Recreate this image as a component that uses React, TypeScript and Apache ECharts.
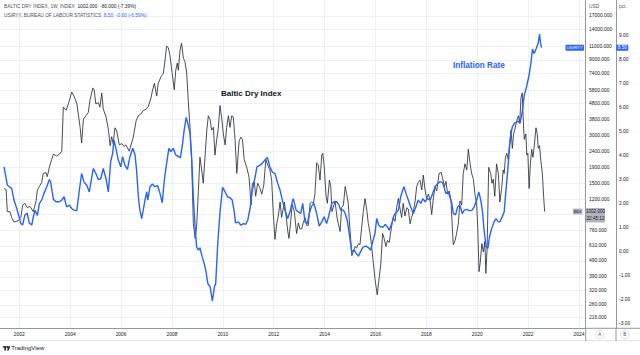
import React, { useEffect, useRef } from 'react';
import * as echarts from 'echarts';

// Baltic Dry Index (weekly, sampled), decimal years
const bdiDates = [
  2001.40, 2001.48, 2001.53, 2001.63, 2001.70, 2001.79, 2001.96, 2002.06, 2002.13, 2002.22,
  2002.31, 2002.42, 2002.55, 2002.66, 2002.71, 2002.79, 2002.88, 2002.94, 2003.05, 2003.10,
  2003.18, 2003.27, 2003.34, 2003.47, 2003.57, 2003.67, 2003.73, 2003.84, 2003.93, 2004.06,
  2004.15, 2004.26, 2004.39, 2004.45, 2004.52, 2004.62, 2004.71, 2004.78, 2004.89, 2004.94,
  2005.01, 2005.11, 2005.17, 2005.24, 2005.30, 2005.41, 2005.50, 2005.57, 2005.63, 2005.69,
  2005.76, 2005.83, 2005.93, 2006.03, 2006.12, 2006.19, 2006.32, 2006.48, 2006.59, 2006.68,
  2006.77, 2006.87, 2006.98, 2007.07, 2007.18, 2007.23, 2007.31, 2007.40, 2007.46, 2007.57,
  2007.66, 2007.73, 2007.79, 2007.86, 2007.92, 2008.01, 2008.09, 2008.15, 2008.21, 2008.25,
  2008.32, 2008.38, 2008.45, 2008.51, 2008.58, 2008.64, 2008.71, 2008.78, 2008.84, 2008.91,
  2008.97, 2009.04, 2009.10, 2009.17, 2009.23, 2009.30, 2009.37, 2009.43, 2009.50, 2009.56,
  2009.63, 2009.69, 2009.76, 2009.82, 2009.89, 2009.96, 2010.02, 2010.09, 2010.15, 2010.22,
  2010.28, 2010.35, 2010.41, 2010.48, 2010.55, 2010.64, 2010.71, 2010.77, 2010.84, 2010.94,
  2011.03, 2011.11, 2011.16, 2011.24, 2011.29, 2011.37, 2011.45, 2011.53, 2011.61, 2011.69,
  2011.77, 2011.85, 2011.92, 2011.98, 2012.05, 2012.12, 2012.18, 2012.25, 2012.31, 2012.42,
  2012.47, 2012.55, 2012.60, 2012.67, 2012.73, 2012.81, 2012.90, 2012.97, 2013.03, 2013.10,
  2013.16, 2013.23, 2013.30, 2013.36, 2013.43, 2013.49, 2013.56, 2013.62, 2013.69, 2013.75,
  2013.82, 2013.89, 2013.93, 2013.98, 2014.06, 2014.11, 2014.19, 2014.24, 2014.29, 2014.34,
  2014.41, 2014.48, 2014.54, 2014.61, 2014.67, 2014.74, 2014.81, 2014.87, 2014.93, 2015.00,
  2015.07, 2015.13, 2015.20, 2015.26, 2015.33, 2015.39, 2015.46, 2015.52, 2015.59, 2015.66,
  2015.72, 2015.79, 2015.85, 2015.92, 2015.98, 2016.07, 2016.15, 2016.21, 2016.28, 2016.34,
  2016.41, 2016.47, 2016.54, 2016.64, 2016.70, 2016.77, 2016.83, 2016.90, 2016.96, 2017.03,
  2017.09, 2017.16, 2017.23, 2017.29, 2017.36, 2017.42, 2017.49, 2017.56, 2017.62, 2017.68,
  2017.75, 2017.82, 2017.88, 2017.95, 2018.01, 2018.08, 2018.15, 2018.21, 2018.28, 2018.34,
  2018.41, 2018.50, 2018.58, 2018.63, 2018.71, 2018.77, 2018.84, 2018.90, 2018.97, 2019.02,
  2019.06, 2019.13, 2019.19, 2019.26, 2019.32, 2019.39, 2019.45, 2019.52, 2019.59, 2019.65,
  2019.72, 2019.78, 2019.85, 2019.91, 2019.98, 2020.02, 2020.07, 2020.12, 2020.18, 2020.24,
  2020.30, 2020.34, 2020.39, 2020.45, 2020.53, 2020.58, 2020.63, 2020.69, 2020.76, 2020.83,
  2020.89, 2020.96, 2021.02, 2021.06, 2021.11, 2021.16, 2021.22, 2021.29, 2021.33, 2021.38,
  2021.43, 2021.48, 2021.55, 2021.62, 2021.67, 2021.72, 2021.77, 2021.81, 2021.85, 2021.91,
  2021.95, 2021.99, 2022.04, 2022.09, 2022.14, 2022.19, 2022.24, 2022.31, 2022.36, 2022.40,
  2022.45, 2022.50, 2022.56, 2022.61, 2022.65,
];
const bdiValues = [
  1400, 1380, 1000, 1000, 920, 860, 880, 920, 1100, 1130,
  1060, 1080, 1000, 1170, 1370, 1440, 1530, 1740, 1760, 1660,
  1900, 2130, 2300, 2240, 2300, 2400, 4540, 4340, 4760, 5650,
  5330, 4800, 3390, 2700, 3820, 4010, 4200, 5050, 6000, 5850,
  4760, 4850, 4540, 5580, 4430, 3940, 3300, 2600, 2960, 2680,
  3370, 3220, 2630, 2680, 2570, 2630, 2400, 2940, 3720, 4010,
  4100, 4320, 4400, 4600, 5200, 5740, 6420, 5330, 6400, 7060,
  7380, 9000, 11000, 10700, 9650, 7380, 5850, 7750, 8600, 7750,
  10400, 11450, 9200, 8800, 7450, 5030, 3390, 2000, 840, 680,
  800, 1360, 2200, 1830, 1510, 2200, 3260, 4010, 3800, 3260,
  3390, 2270, 2850, 3330, 4650, 3820, 3080, 2630, 3390, 4010,
  3390, 4010, 3950, 2850, 1740, 2780, 2940, 2850, 2130, 1900,
  1650, 1100, 1510, 1540, 1250, 1510, 1420, 1290, 1470, 2130,
  1950, 1830, 1580, 1000, 670, 840, 940, 1150, 920, 1150,
  1000, 760, 680, 880, 1110, 1000, 730, 850, 780, 780,
  850, 920, 820, 820, 1130, 1150, 1130, 1290, 2030, 1970,
  1580, 2270, 2330, 1970, 1250, 1130, 1580, 1450, 1000, 1060,
  1170, 940, 840, 750, 1060, 1100, 1440, 1290, 1130, 760,
  530, 560, 605, 590, 630, 620, 800, 1000, 1210, 1020,
  840, 730, 605, 470, 380, 300, 390, 470, 730, 680,
  605, 660, 640, 820, 920, 870, 1060, 1210, 1060, 920,
  1130, 940, 1060, 1040, 840, 920, 1000, 1170, 1440, 1530,
  1580, 1370, 1700, 1370, 1210, 1290, 1170, 960, 1230, 1440,
  1350, 1740, 1770, 1650, 1440, 1550, 1290, 1350, 1170, 800,
  620, 660, 730, 850, 1170, 1100, 1740, 2000, 1830, 2470,
  2000, 1740, 1600, 1290, 1100, 800, 420, 480, 630, 560,
  650, 410, 600, 1900, 1740, 1510, 1600, 1250, 2000, 1740,
  1150, 1400, 1830, 1740, 2200, 2330, 2130, 2850, 3260, 2500,
  3080, 3300, 3720, 4010, 3600, 5200, 5580, 3720, 2850, 3080,
  2270, 2330, 1400, 2000, 2470, 2200, 2570, 3370, 3080, 2500,
  2600, 2090, 1740, 1250, 1002,
];

// US inflation rate YoY (%), monthly-ish samples
const cpiDates = [
  2001.40, 2001.53, 2001.70, 2001.79, 2001.90, 2001.99, 2002.06, 2002.13, 2002.22, 2002.31,
  2002.39, 2002.49, 2002.55, 2002.62, 2002.71, 2002.79, 2002.88, 2002.97, 2003.08, 2003.18,
  2003.23, 2003.34, 2003.44, 2003.57, 2003.67, 2003.76, 2003.86, 2003.97, 2004.06, 2004.15,
  2004.26, 2004.36, 2004.45, 2004.54, 2004.65, 2004.75, 2004.85, 2004.91, 2005.01, 2005.11,
  2005.20, 2005.30, 2005.41, 2005.50, 2005.59, 2005.67, 2005.72, 2005.80, 2005.89, 2005.99,
  2006.06, 2006.15, 2006.25, 2006.35, 2006.46, 2006.55, 2006.61, 2006.68, 2006.74, 2006.81,
  2006.87, 2006.94, 2007.01, 2007.05, 2007.14, 2007.23, 2007.33, 2007.44, 2007.53, 2007.62,
  2007.70, 2007.79, 2007.88, 2007.96, 2008.05, 2008.15, 2008.25, 2008.33, 2008.41, 2008.48,
  2008.56, 2008.64, 2008.71, 2008.78, 2008.84, 2008.91, 2008.97, 2009.04, 2009.10, 2009.19,
  2009.27, 2009.33, 2009.41, 2009.50, 2009.59, 2009.67, 2009.72, 2009.80, 2009.89, 2009.99,
  2010.09, 2010.19, 2010.28, 2010.37, 2010.45, 2010.50, 2010.61, 2010.71, 2010.81, 2010.90,
  2010.98, 2011.07, 2011.16, 2011.27, 2011.34, 2011.46, 2011.55, 2011.65, 2011.75, 2011.85,
  2011.94, 2012.05, 2012.16, 2012.25, 2012.34, 2012.44, 2012.55, 2012.64, 2012.73, 2012.77,
  2012.88, 2012.97, 2013.06, 2013.14, 2013.23, 2013.32, 2013.40, 2013.49, 2013.58, 2013.69,
  2013.79, 2013.89, 2013.98, 2014.08, 2014.17, 2014.28, 2014.37, 2014.48, 2014.57, 2014.63,
  2014.74, 2014.81, 2014.89, 2014.95, 2015.07, 2015.16, 2015.24, 2015.33, 2015.42, 2015.52,
  2015.63, 2015.72, 2015.81, 2015.89, 2015.98, 2016.05, 2016.13, 2016.21, 2016.31, 2016.38,
  2016.47, 2016.54, 2016.64, 2016.73, 2016.81, 2016.90, 2016.99, 2017.07, 2017.12, 2017.20,
  2017.29, 2017.38, 2017.49, 2017.59, 2017.68, 2017.78, 2017.86, 2017.95, 2018.04, 2018.15,
  2018.25, 2018.34, 2018.45, 2018.53, 2018.60, 2018.66, 2018.76, 2018.86, 2018.99, 2019.06,
  2019.15, 2019.23, 2019.32, 2019.41, 2019.49, 2019.59, 2019.68, 2019.78, 2019.88, 2019.98,
  2020.06, 2020.14, 2020.20, 2020.27, 2020.35, 2020.42, 2020.48, 2020.57, 2020.66, 2020.74,
  2020.83, 2020.89, 2020.98, 2021.06, 2021.12, 2021.20, 2021.27, 2021.33, 2021.38, 2021.46,
  2021.54, 2021.61, 2021.68, 2021.77, 2021.85, 2021.94, 2022.04, 2022.11, 2022.17, 2022.24,
  2022.32, 2022.40, 2022.45, 2022.49, 2022.53,
];
const cpiValues = [
  3.53, 2.76, 2.63, 2.14, 1.79, 1.44, 1.16, 1.10, 1.51, 1.60,
  1.19, 1.10, 1.44, 1.72, 1.50, 2.00, 2.14, 2.42, 2.70, 3.00,
  2.90, 2.17, 2.07, 2.07, 2.14, 2.28, 1.86, 1.93, 1.79, 1.72,
  1.70, 2.55, 3.25, 2.90, 2.76, 2.48, 3.11, 3.46, 3.25, 2.99,
  3.03, 3.46, 3.03, 2.48, 3.74, 4.09, 4.64, 4.30, 3.81, 3.53,
  3.95, 3.60, 3.42, 3.95, 4.30, 4.02, 3.39, 2.27, 1.72, 1.37,
  1.72, 2.14, 2.48, 2.14, 2.70, 2.81, 2.70, 2.74, 2.42, 2.03,
  2.97, 3.67, 4.30, 4.16, 4.30, 4.02, 3.97, 3.90, 4.43, 5.06,
  5.59, 5.27, 4.92, 3.81, 2.27, 1.02, 0.19, 0.05, 0.15, -0.23,
  -0.51, -0.79, -1.34, -1.48, -2.07, -1.48, -1.34, 0.33, 1.65, 2.67,
  2.48, 2.27, 2.24, 2.14, 1.65, 1.19, 1.23, 1.09, 1.16, 1.13,
  1.30, 1.79, 2.55, 3.11, 3.53, 3.60, 3.67, 3.81, 3.92, 3.53,
  3.32, 3.25, 2.83, 2.55, 2.14, 1.72, 1.37, 1.65, 2.07, 2.20,
  1.72, 1.65, 1.58, 2.00, 1.23, 1.16, 1.58, 1.89, 2.00, 1.58,
  1.05, 1.23, 1.44, 1.16, 1.51, 2.00, 2.07, 2.07, 1.93, 1.72,
  1.72, 1.58, 1.30, 0.88, -0.02, 0.05, -0.07, -0.20, 0.00, 0.19,
  0.22, 0.16, 0.05, 0.40, 0.75, 1.37, 1.09, 1.02, 1.02, 1.13,
  1.02, 0.88, 1.16, 1.51, 1.61, 1.72, 2.27, 2.55, 2.70, 2.42,
  2.14, 1.86, 1.58, 1.86, 2.14, 2.00, 2.20, 2.07, 2.20, 2.14,
  2.42, 2.70, 2.83, 2.90, 2.90, 2.83, 2.42, 2.48, 2.07, 1.58,
  1.52, 1.86, 1.93, 1.58, 1.72, 1.75, 1.70, 1.70, 1.86, 2.14,
  2.48, 2.14, 1.72, 0.88, 0.19, 0.12, 0.60, 0.96, 1.23, 1.37,
  1.23, 1.23, 1.44, 1.65, 2.42, 3.39, 4.36, 4.92, 5.20, 5.34,
  5.39, 5.44, 5.34, 5.83, 6.52, 6.87, 7.36, 7.85, 8.43, 8.26,
  8.47, 8.71, 9.07, 8.68, 8.50,
];

const bdiTicks = [17000, 14000, 11000, 9000, 7400, 5800, 4800, 3800, 3000, 2400, 1900, 1500, 1200, 960, 760, 610, 490, 390, 320, 260, 216];
const bdiLabelTicks = [17000, 14000, 11000, 9000, 7400, 5800, 4800, 3800, 3000, 2400, 1900, 1500, 1200, 760, 610, 490, 390, 320, 260, 216];
const pctTicks = [-3, -2, -1, 0, 1, 2, 3, 4, 5, 6, 7, 8, 9];
const yearTicks = [2002, 2004, 2006, 2008, 2010, 2012, 2014, 2016, 2018, 2020, 2022, 2024];

const X_MIN = 2001.241;
const X_MAX = 2024.264;
const LN_MIN = 5.2203;
const LN_MAX = 9.972;
const PCT_MIN = -3.21;
const PCT_MAX = 10.49;

const FONT = "'Liberation Sans', Arial, sans-serif";

export default function App() {
  const ref = useRef<HTMLDivElement>(null);
  useEffect(() => {
    if (!ref.current) return;
    const chart = echarts.init(ref.current, null, { renderer: 'svg' });
    const axisText = { color: '#131722', fontSize: 4.9, fontFamily: FONT };
    const sepColor = '#9598a1';
    const gridColor = '#eef1f7';

    chart.setOption({
      animation: false,
      backgroundColor: '#ffffff',
      grid: { left: 0, right: 54.3, top: 0, bottom: 26.7, containLabel: false, outerBoundsMode: 'none' },
      xAxis: {
        type: 'value',
        min: X_MIN,
        max: X_MAX,
        axisLine: { show: true, onZero: false, lineStyle: { color: sepColor, width: 1 } },
        axisTick: { show: false, customValues: yearTicks },
        axisLabel: { customValues: yearTicks, formatter: (v: number) => String(Math.round(v)), margin: 3.5, ...axisText },
        splitLine: { show: true, lineStyle: { color: gridColor, width: 1 } },
      },
      yAxis: [
        {
          type: 'value',
          position: 'right',
          min: LN_MIN,
          max: LN_MAX,
          axisLine: { show: true, onZero: false, lineStyle: { color: sepColor, width: 1 } },
          axisTick: { show: false, customValues: bdiTicks.map((v) => Math.log(v)) },
          axisLabel: {
            customValues: bdiLabelTicks.map((v) => Math.log(v)),
            formatter: (v: number) => Math.round(Math.exp(v)).toFixed(3),
            margin: 3.3,
            ...axisText,
          },
          splitLine: { show: true, lineStyle: { color: gridColor, width: 1 } },
        },
        {
          type: 'value',
          position: 'right',
          offset: 30.3,
          min: PCT_MIN,
          max: PCT_MAX,
          axisLine: { show: true, onZero: false, lineStyle: { color: sepColor, width: 1 } },
          axisTick: { show: false },
          axisLabel: { customValues: pctTicks, formatter: (v: number) => v.toFixed(2), margin: 3, ...axisText },
          splitLine: { show: false },
        },
      ],
      series: [
        {
          name: 'BDI',
          type: 'line',
          yAxisIndex: 0,
          data: bdiDates.map((d, i) => [d, Math.log(bdiValues[i])]),
          showSymbol: false,
          symbol: 'none',
          lineStyle: { color: '#2a2e39', width: 0.85 },
          z: 2,
        },
        {
          name: 'USIRYY',
          type: 'line',
          yAxisIndex: 1,
          data: cpiDates.map((d, i) => [d, cpiValues[i]]),
          showSymbol: false,
          symbol: 'none',
          lineStyle: { color: '#2962ff', width: 1.4 },
          z: 3,
        },
      ],
    });

    const yCpi = chart.convertToPixel({ yAxisIndex: 1 }, cpiValues[cpiValues.length - 1]) as number;
    const yBdi = chart.convertToPixel({ yAxisIndex: 0 }, Math.log(bdiValues[bdiValues.length - 1])) as number;
    const axisAX = 585.7;
    const axisBX = 616;

    const smallText = (text: string, x: number, y: number, fill: string, extra: any = {}) => ({
      type: 'text',
      x,
      y,
      silent: true,
      style: { text, fill, fontSize: 4.6, fontFamily: FONT, align: 'center', verticalAlign: 'middle', ...extra },
      z: 20,
    });

    chart.setOption({
      graphic: [
        // legend
        {
          type: 'text', x: 4, y: 6.7, z: 20,
          style: {
            text: '{a|BALTIC DRY INDEX, 1W, INDEX}  {b|1002.000}  {b|-80.000 (-7.39%)}',
            fontSize: 4.8, fontFamily: FONT, verticalAlign: 'middle', fill: '#50535e',
            rich: {
              a: { fill: '#50535e', fontSize: 4.8, fontFamily: FONT },
              b: { fill: '#131722', fontSize: 4.8, fontFamily: FONT },
            },
          },
        },
        {
          type: 'text', x: 4, y: 15, z: 20,
          style: {
            text: '{a|USIRYY, BUREAU OF LABOUR STATISTICS}  {b|8.50}  {b|-0.60 (-6.59%)}',
            fontSize: 4.8, fontFamily: FONT, verticalAlign: 'middle', fill: '#50535e',
            rich: {
              a: { fill: '#50535e', fontSize: 4.8, fontFamily: FONT },
              b: { fill: '#2962ff', fontSize: 4.8, fontFamily: FONT },
            },
          },
        },
        // axis headers
        smallText('USD', 589, 6.7, '#50535e', { align: 'left', fontSize: 4.8 }),
        smallText('pct.', 619, 6.7, '#50535e', { align: 'left', fontSize: 4.8 }),
        // annotations
        {
          type: 'text', x: 221, y: 93, z: 20,
          style: { text: 'Baltic Dry Index', fill: '#131722', fontSize: 8, fontWeight: 'bold', fontFamily: FONT, verticalAlign: 'middle' },
        },
        {
          type: 'text', x: 453, y: 65.7, z: 20,
          style: { text: 'Inflation Rate', fill: '#2962ff', fontSize: 8.2, fontWeight: 'bold', fontFamily: FONT, verticalAlign: 'middle' },
        },
        // USIRYY labels
        { type: 'rect', z: 19, shape: { x: 565.5, y: yCpi - 3, width: 18.5, height: 6, r: 1 }, style: { fill: '#2962ff' } },
        smallText('USIRYY', 574.75, yCpi, '#ffffff', { fontSize: 4.4 }),
        { type: 'rect', z: 19, shape: { x: axisBX + 0.3, y: yCpi - 3, width: 12, height: 6, r: 1 }, style: { fill: '#2962ff' } },
        smallText('8.50', axisBX + 6.3, yCpi, '#ffffff', { fontSize: 4.6 }),
        // BDI labels
        { type: 'rect', z: 19, shape: { x: 572.8, y: yBdi - 3, width: 9.6, height: 6, r: 1 }, style: { fill: '#b2b5be' } },
        smallText('BDI', 577.6, yBdi, '#131722', { fontSize: 4.4 }),
        { type: 'rect', z: 19, shape: { x: axisAX + 0.3, y: yBdi - 3.5, width: 19, height: 14.5, r: 1 }, style: { fill: '#b2b5be' } },
        smallText('1002.000', axisAX + 9.8, yBdi, '#131722', { fontSize: 4.6 }),
        smallText('22:45:12', axisAX + 9.8, yBdi + 7, '#131722', { fontSize: 4.6 }),
        // bottom strip lines
        { type: 'line', z: 15, shape: { x1: axisAX, y1: 328.3, x2: 640, y2: 328.3 }, style: { stroke: sepColor, lineWidth: 1 } },
        { type: 'line', z: 15, shape: { x1: 0, y1: 340.5, x2: 640, y2: 340.5 }, style: { stroke: '#e0e3eb', lineWidth: 1 } },
        { type: 'line', z: 15, shape: { x1: axisAX, y1: 328, x2: axisAX, y2: 341 }, style: { stroke: sepColor, lineWidth: 1 } },
        { type: 'line', z: 15, shape: { x1: axisBX, y1: 328, x2: axisBX, y2: 341 }, style: { stroke: sepColor, lineWidth: 1 } },
        { type: 'circle', z: 15, shape: { cx: 599.7, cy: 334.6, r: 4.2 }, style: { fill: '#ffffff', stroke: '#d1d4dc', lineWidth: 0.8 } },
        smallText('A', 599.7, 334.7, '#50535e', { fontSize: 4.6 }),
        { type: 'circle', z: 15, shape: { cx: 624.8, cy: 334.6, r: 4.2 }, style: { fill: '#ffffff', stroke: '#d1d4dc', lineWidth: 0.8 } },
        smallText('B', 624.8, 334.7, '#50535e', { fontSize: 4.6 }),
        // TradingView logo
        { type: 'rect', z: 15, shape: { x: 2.8, y: 346.2, width: 3.6, height: 1.4 }, style: { fill: '#131722' } },
        { type: 'rect', z: 15, shape: { x: 4.4, y: 346.2, width: 1.5, height: 4.4 }, style: { fill: '#131722' } },
        { type: 'circle', z: 15, shape: { cx: 7.3, cy: 347, r: 0.8 }, style: { fill: '#131722' } },
        { type: 'polygon', z: 15, shape: { points: [[8.4, 346.2], [10.2, 346.2], [8.6, 350.6], [7.0, 350.6]] }, style: { fill: '#131722' } },
        {
          type: 'text', x: 11.2, y: 348.4, z: 15,
          style: { text: 'TradingView', fill: '#131722', fontSize: 6, fontFamily: FONT, verticalAlign: 'middle' },
        },
      ],
    });

    return () => chart.dispose();
  }, []);

  return <div ref={ref} style={{ position: 'absolute', left: 0, top: 0, width: 640, height: 355 }} />;
}
